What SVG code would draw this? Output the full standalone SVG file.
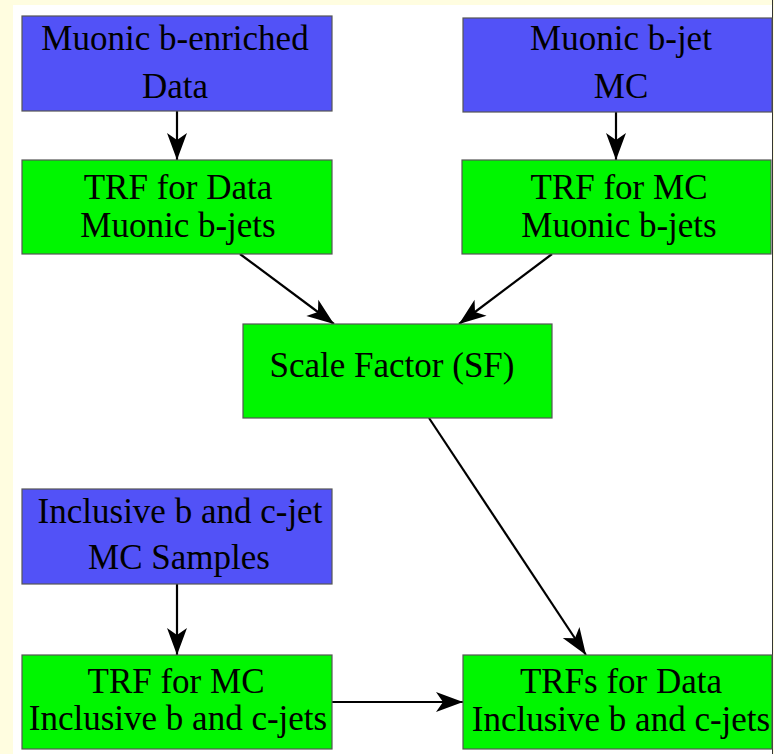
<svg xmlns="http://www.w3.org/2000/svg" width="774" height="754" viewBox="0 0 774 754">
<style>
.blue{fill:#5252f7;stroke:#555;stroke-width:1.2}
.green{fill:#00f600;stroke:#555;stroke-width:1.2}
text{font-family:"Liberation Serif","Times New Roman",serif;font-size:35px;fill:#000;text-anchor:middle}
.edge{stroke:#000;stroke-width:2.2;fill:none}
</style>
<defs>
<marker id="ah" viewBox="-28 -11 29 22" refX="0" refY="0" markerUnits="userSpaceOnUse" markerWidth="29" markerHeight="22" orient="auto">
<path d="M0,0 L-27,-10 L-20,0 L-27,10 Z" fill="#000"/>
</marker>
</defs>
<rect x="0" y="0" width="774" height="754" fill="#fffde0"/>
<rect x="13" y="5" width="760" height="749" fill="#fff"/>
<line x1="772.5" y1="0" x2="772.5" y2="754" stroke="#333" stroke-width="1"/>
<g id="connectors">
<line class="edge" x1="177" y1="111" x2="177" y2="160" marker-end="url(#ah)"/>
<line class="edge" x1="616" y1="112" x2="616" y2="160" marker-end="url(#ah)"/>
<line class="edge" x1="240" y1="254" x2="334" y2="324" marker-end="url(#ah)"/>
<line class="edge" x1="552" y1="254" x2="459" y2="324" marker-end="url(#ah)"/>
<line class="edge" x1="429" y1="418" x2="586" y2="655" marker-end="url(#ah)"/>
<line class="edge" x1="177" y1="584" x2="177" y2="655" marker-end="url(#ah)"/>
<line class="edge" x1="332" y1="702" x2="463" y2="702" marker-end="url(#ah)"/>
</g>
<g id="n_muonic_data">
<rect class="blue" x="22" y="16" width="310" height="95"/>
<text x="175" y="50">Muonic b-enriched</text>
<text x="175" y="98">Data</text>
</g>
<g id="n_muonic_mc">
<rect class="blue" x="463" y="18" width="309" height="94"/>
<text x="621" y="50">Muonic b-jet</text>
<text x="621" y="98">MC</text>
</g>
<g id="n_trf_data">
<rect class="green" x="22" y="160" width="310" height="94"/>
<text x="178" y="199">TRF for Data</text>
<text x="178" y="237">Muonic b-jets</text>
</g>
<g id="n_trf_mc">
<rect class="green" x="462" y="160" width="309" height="94"/>
<text x="619" y="199">TRF for MC</text>
<text x="619" y="237">Muonic b-jets</text>
</g>
<g id="n_sf">
<rect class="green" x="243" y="324" width="309" height="94"/>
<text x="392" y="377">Scale Factor (SF)</text>
</g>
<g id="n_incl_mc">
<rect class="blue" x="22" y="489" width="310" height="95"/>
<text x="180" y="523">Inclusive b and c-jet</text>
<text x="179" y="569">MC Samples</text>
</g>
<g id="n_trf_incl_mc">
<rect class="green" x="22" y="655" width="310" height="94"/>
<text x="176" y="693">TRF for MC</text>
<text x="178" y="730">Inclusive b and c-jets</text>
</g>
<g id="n_trfs_data">
<rect class="green" x="463" y="655" width="309" height="94"/>
<text x="621" y="693">TRFs for Data</text>
<text x="621" y="731">Inclusive b and c-jets</text>
</g>
</svg>
